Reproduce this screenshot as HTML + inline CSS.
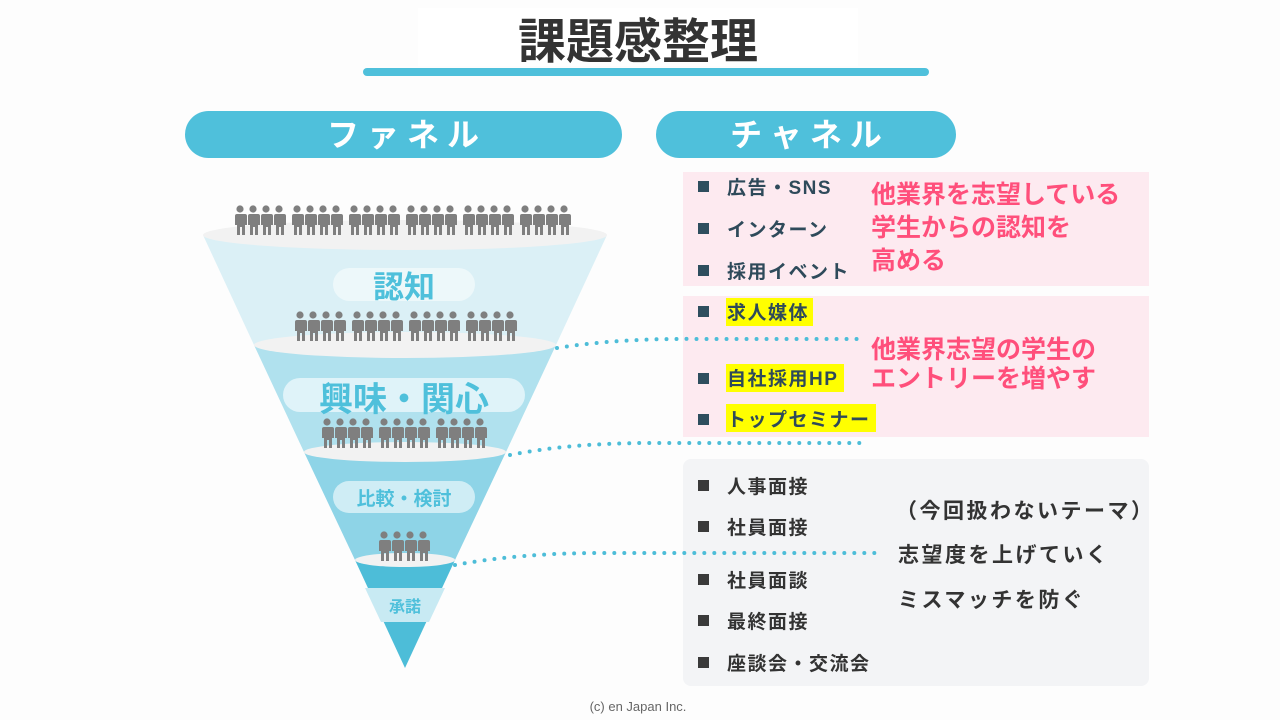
<!DOCTYPE html>
<html><head><meta charset="utf-8"><style>
html,body{margin:0;padding:0;background:#fdfdfd;}
svg{display:block;}
text{font-family:"Liberation Sans","Noto Sans CJK JP",sans-serif;font-weight:bold;}
</style></head><body>
<svg width="1280" height="720" viewBox="0 0 1280 720" xmlns="http://www.w3.org/2000/svg">
<defs>
<g id="p"><circle cx="0" cy="4" r="3.6" fill="#7f7f7f"/><path d="M-5,9 h10 q2,0 2,2 v9 h-2 v10 h-3 v-8 h-2 v8 h-3 v-10 h-2 v-9 q0,-2 2,-2z" fill="#7f7f7f"/></g>
<g id="g4"><use href="#p" x="6"/><use href="#p" x="19"/><use href="#p" x="32"/><use href="#p" x="45"/></g>
</defs>
<rect width="1280" height="720" fill="#fdfdfd"/>
<rect x="418" y="8" width="440" height="58" fill="#ffffff"/>
<text x="638" y="58" font-size="48" text-anchor="middle" fill="#333">課題感整理</text>
<rect x="363" y="68" width="566" height="8" rx="4" fill="#4fc0db"/>
<rect x="185" y="111" width="437" height="47" rx="23.5" fill="#4fc0db"/>
<text x="407" y="146" font-size="32" text-anchor="middle" fill="#fff" letter-spacing="8">ファネル</text>
<rect x="656" y="111" width="300" height="47" rx="23.5" fill="#4fc0db"/>
<text x="810" y="146" font-size="32" text-anchor="middle" fill="#fff" letter-spacing="8">チャネル</text>
<polygon points="203,235 607,235 556,345 254,345" fill="#dbf0f6"/>
<polygon points="254,345 556,345 506,452 304,452" fill="#b0e1ee"/>
<polygon points="304,452 506,452 455,560 355,560" fill="#8ed4e7"/>
<polygon points="355,560 455,560 405,668" fill="#4dbdd8"/>
<polygon points="365,588 445,588 429,622 381,622" fill="#c8eaf3"/>
<ellipse cx="405" cy="235" rx="202" ry="15" fill="#f2f2f2"/>
<ellipse cx="405" cy="345" rx="151" ry="13" fill="#f2f2f2"/>
<ellipse cx="405" cy="452" rx="101" ry="10" fill="#f2f2f2"/>
<ellipse cx="405" cy="560" rx="50" ry="7" fill="#f2f2f2"/>
<use href="#g4" x="234" y="205"/><use href="#g4" x="291" y="205"/><use href="#g4" x="348" y="205"/><use href="#g4" x="405" y="205"/><use href="#g4" x="462" y="205"/><use href="#g4" x="519" y="205"/>
<use href="#g4" x="294" y="311"/><use href="#g4" x="351" y="311"/><use href="#g4" x="408" y="311"/><use href="#g4" x="465" y="311"/>
<use href="#g4" x="321" y="418"/><use href="#g4" x="378" y="418"/><use href="#g4" x="435" y="418"/>
<use href="#g4" x="378" y="531"/>
<rect x="333" y="268" width="142" height="33" rx="16.5" fill="#eef8fb" opacity="0.9"/>
<text x="404" y="298" font-size="31" text-anchor="middle" fill="#4fc0db">認知</text>
<rect x="283" y="378" width="242" height="34" rx="17" fill="#e4f5fa" opacity="0.9"/>
<text x="404" y="411" font-size="34" text-anchor="middle" fill="#4fc0db">興味・関心</text>
<rect x="333" y="481" width="142" height="32" rx="16" fill="#d6eff6" opacity="0.9"/>
<text x="404" y="505" font-size="19" text-anchor="middle" fill="#4fc0db">比較・検討</text>
<text x="405" y="612" font-size="16" text-anchor="middle" fill="#4fc0db">承諾</text>
<rect x="683" y="172" width="466" height="114" fill="#fdeaf0"/>
<rect x="683" y="296" width="466" height="141" fill="#fdeaf0"/>
<rect x="683" y="459" width="466" height="227" rx="8" fill="#f3f4f6"/>
<g fill="#2e4e5e">
<rect x="698" y="181" width="11" height="11"/><rect x="698" y="223" width="11" height="11"/><rect x="698" y="265" width="11" height="11"/>
<rect x="698" y="306" width="11" height="11"/><rect x="698" y="373" width="11" height="11"/><rect x="698" y="414" width="11" height="11"/>
</g>
<g fill="#3a3a3a">
<rect x="698" y="480" width="11" height="11"/><rect x="698" y="521" width="11" height="11"/><rect x="698" y="574" width="11" height="11"/><rect x="698" y="615" width="11" height="11"/><rect x="698" y="657" width="11" height="11"/>
</g>
<g fill="#ffff00">
<rect x="726" y="298" width="87" height="28"/><rect x="726" y="364" width="118" height="28"/><rect x="726" y="404" width="150" height="28"/>
</g>
<g font-size="19" fill="#2e4a5a" letter-spacing="1.5">
<text x="727" y="194">広告・SNS</text>
<text x="727" y="236">インターン</text>
<text x="727" y="278">採用イベント</text>
<text x="727" y="319">求人媒体</text>
<text x="727" y="385">自社採用HP</text>
<text x="727" y="426">トップセミナー</text>
</g>
<g font-size="19" fill="#333" letter-spacing="1.5">
<text x="727" y="493">人事面接</text>
<text x="727" y="534">社員面接</text>
<text x="727" y="587">社員面談</text>
<text x="727" y="628">最終面接</text>
<text x="727" y="670">座談会・交流会</text>
</g>
<g font-size="25" fill="#ff4f7b">
<text x="871" y="203">他業界を志望している</text>
<text x="871" y="236">学生からの認知を</text>
<text x="871" y="269">高める</text>
<text x="871" y="358">他業界志望の学生の</text>
<text x="871" y="387">エントリーを増やす</text>
</g>
<g font-size="21" fill="#333" letter-spacing="2.5">
<text x="896" y="518">（今回扱わないテーマ）</text>
<text x="898" y="562">志望度を上げていく</text>
<text x="898" y="607">ミスマッチを防ぐ</text>
</g>
<g fill="none" stroke="#4dbdd8" stroke-width="4" stroke-linecap="round" stroke-dasharray="0 10">
<path d="M557,348 Q620,338 700,339 L862,339"/>
<path d="M510,455 Q570,443 650,443 L866,443"/>
<path d="M455,565 Q520,553 600,553 L882,553"/>
</g>
<text x="638" y="711" font-size="13" text-anchor="middle" fill="#666" style="font-weight:normal">(c) en Japan Inc.</text>
</svg>
</body></html>
